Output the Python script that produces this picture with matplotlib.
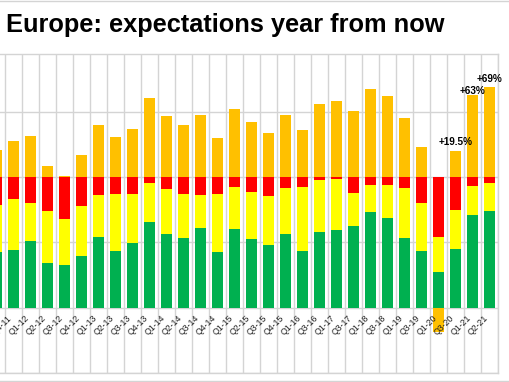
import matplotlib
matplotlib.use("Agg")
import matplotlib.pyplot as plt
from matplotlib.lines import Line2D
from matplotlib.transforms import offset_copy
import numpy as np

plt.rcParams['font.family'] = ['Liberation Sans', 'DejaVu Sans']

# data (% of answers)
quarters = ['Q3-11', 'Q4-11', 'Q1-12', 'Q2-12', 'Q3-12', 'Q4-12', 'Q1-13', 'Q2-13',
            'Q3-13', 'Q4-13', 'Q1-14', 'Q2-14', 'Q3-14', 'Q4-14', 'Q1-15', 'Q2-15',
            'Q3-15', 'Q4-15', 'Q1-16', 'Q3-16', 'Q1-17', 'Q3-17', 'Q1-18', 'Q3-18',
            'Q1-19', 'Q3-19', 'Q1-20', 'Q3-20', 'Q1-21', 'Q2-21']
net = [20.9, 27.3, 31.1, 8.7, 0.8, 17.1, 39.8, 30.4, 36.5, 60.7, 46.7, 39.8, 47.2, 29.6, 52.3,
       41.8, 33.2, 47.7, 35.7, 55.6, 57.7, 50.3, 67.1, 62.2, 44.9, 23.2, -19.0, 19.5, 63.0, 69.0]
red = [21.7, 17.1, 19.6, 25.8, 31.9, 22.2, 14.0, 13.0, 13.0, 4.6, 9.2, 13.0, 13.5, 13.3, 7.9,
       11.2, 14.5, 8.4, 7.4, 2.3, 1.5, 12.0, 6.4, 6.4, 8.2, 20.2, 46.2, 25.0, 6.9, 4.3]
yellow = [35.7, 39.0, 29.6, 40.0, 35.2, 38.5, 32.2, 43.9, 37.5, 30.1, 34.7, 33.9, 25.8, 43.8, 31.9,
          36.2, 37.5, 35.5, 49.5, 39.8, 39.3, 25.8, 20.1, 25.2, 38.5, 36.4, 26.2, 30.4, 22.4, 22.0]
green = [42.6, 43.9, 50.8, 34.2, 32.9, 39.3, 53.8, 43.1, 49.5, 65.3, 56.1, 53.1, 60.7, 42.9, 60.2,
         52.6, 48.0, 56.1, 43.1, 57.9, 59.2, 62.2, 73.5, 68.4, 53.3, 43.4, 27.6, 44.6, 70.7, 73.7]
callouts = {'Q3-20': '+19.5%', 'Q1-21': '+63%', 'Q2-21': '+69%'}

c_orange = '#FFC000'
c_red = '#FF0000'
c_yellow = '#FFFF00'
c_green = '#00B050'
c_grid = '#D4D4D4'

fig = plt.figure(figsize=(5.1, 3.82), dpi=100)
W, H = 510, 382
ax = fig.add_axes([-12 / W, (H - 373) / H, 510 / W, (373 - 54) / H])

x = np.arange(len(quarters))
r = np.array(red)
y = np.array(yellow)
g = np.array(green)
n = np.array(net)
w = 0.65

ax.bar(x, -r, w, bottom=0, color=c_red, linewidth=0)
ax.bar(x, -y, w, bottom=-r, color=c_yellow, linewidth=0)
ax.bar(x, -g, w, bottom=-(r + y), color=c_green, linewidth=0)
# positive net sits on zero, negative net stacks under the other negatives
base = np.where(n >= 0, 0, -(r + y + g))
ax.bar(x, n, w, bottom=base, color=c_orange, linewidth=0)

ax.set_xlim(-0.5, len(quarters) - 0.5)
ax.set_ylim(-150, 94)
ax.set_axisbelow(True)
ax.set_yticks([-150, -100, -50, 0, 50])
ax.set_yticklabels([])
ax.tick_params(axis='y', length=0)
ax.set_xticks(x)
ax.set_xticklabels([])
ax.tick_params(axis='x', which='both', length=0)
ax.set_xticks(x + 0.5, minor=True)
ax.grid(axis='y', color=c_grid, linewidth=1)
ax.grid(axis='x', which='minor', color=c_grid, linewidth=1)
for s in ax.spines.values():
    s.set_color(c_grid)
    s.set_linewidth(1)

# category labels drawn over the bars (first one lies off the picture)
lab_tr = offset_copy(ax.transData, fig=fig, x=-3, y=-9, units='dots')
for i, q in enumerate(quarters):
    if i == 0:
        continue
    ax.text(i, -100, q, transform=lab_tr, rotation=45, rotation_mode='anchor',
            ha='right', va='center', fontsize=6.3, color='#222222', zorder=6)

offs = {'Q3-20': 4, 'Q1-21': -1, 'Q2-21': 3}
for q, t in callouts.items():
    i = quarters.index(q)
    ax.text(i, n[i], t, transform=offset_copy(ax.transData, fig=fig, x=0, y=offs[q], units='dots'),
            ha='center', va='bottom', fontsize=7.2, fontweight='bold', zorder=7)

fig.text(6 / W, 1 - 32 / H, 'Europe: expectations year from now', fontsize=18.3,
         fontweight='bold', va='baseline', ha='left')

for yy in (1, 381):
    fig.add_artist(Line2D([0, 1], [1 - yy / H, 1 - yy / H], transform=fig.transFigure,
                          color=c_grid, linewidth=1))

fig.savefig('out.png', dpi=100)
